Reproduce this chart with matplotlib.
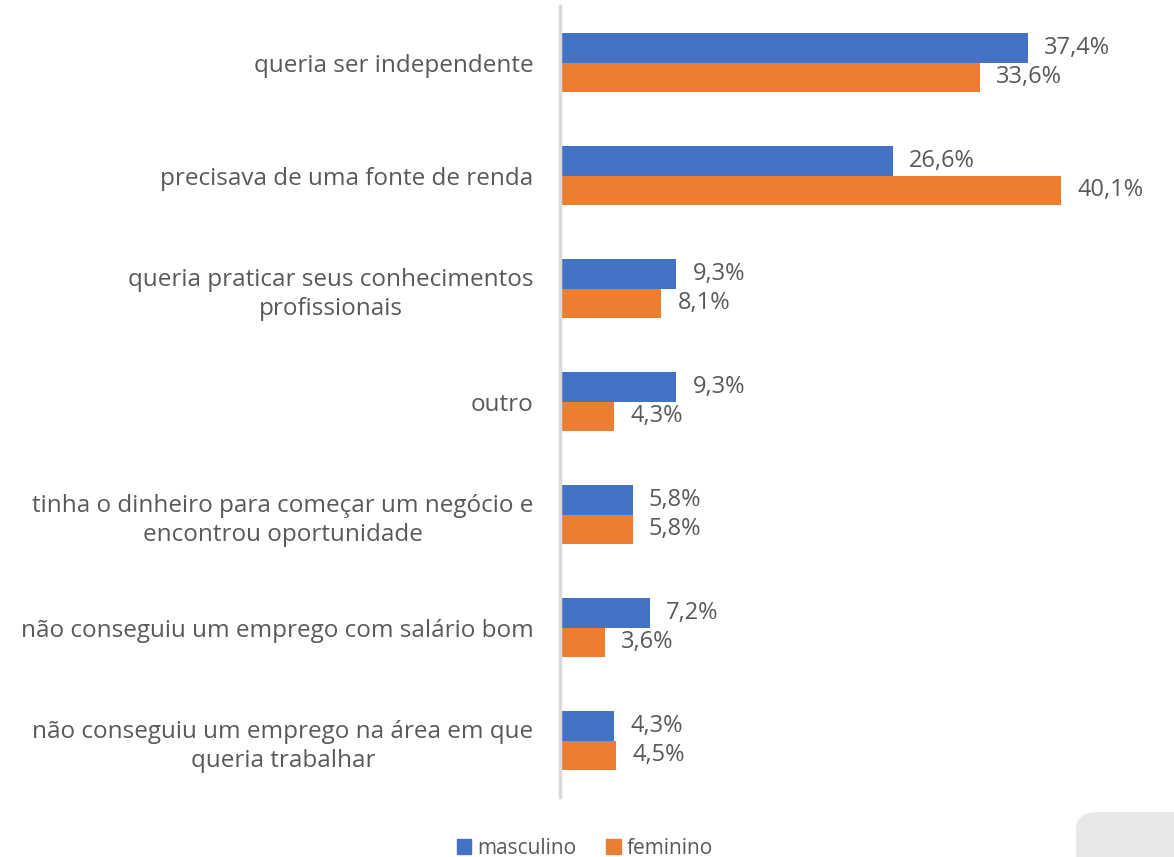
import matplotlib.pyplot as plt
from matplotlib.patches import FancyBboxPatch, Patch
import numpy as np

plt.rcParams['font.family'] = ['Open Sans', 'DejaVu Sans']

categories = [
    'queria ser independente',
    'precisava de uma fonte de renda',
    'queria praticar seus conhecimentos\nprofissionais',
    'outro',
    'tinha o dinheiro para começar um negócio e\nencontrou oportunidade',
    'não conseguiu um emprego com salário bom',
    'não conseguiu um emprego na área em que\nqueria trabalhar',
]
masculino = [37.4, 26.6, 9.3, 9.3, 5.8, 7.2, 4.3]
feminino = [33.6, 40.1, 8.1, 4.3, 5.8, 3.6, 4.5]
series_names = ['masculino', 'feminino']

blue = '#4472c4'
orange = '#ed7d31'
gray_txt = '#595959'

fig = plt.figure(figsize=(11.74, 8.57), dpi=100)
ax = fig.add_axes([560 / 1174, 60 / 857, 614 / 1174, 791 / 857])

y = np.arange(len(categories))
h = 0.26
ax.barh(y - h / 2, masculino, height=h, color=blue)
ax.barh(y + h / 2, feminino, height=h, color=orange)

for yi, v in zip(y, masculino):
    ax.text(v + 1.3, yi - h / 2, f'{v:.1f}%'.replace('.', ','), va='center', ha='left',
            fontsize=17, color=gray_txt)
for yi, v in zip(y, feminino):
    ax.text(v + 1.3, yi + h / 2, f'{v:.1f}%'.replace('.', ','), va='center', ha='left',
            fontsize=17, color=gray_txt)

ax.set_xlim(0, 49.1)
ax.set_ylim(len(categories) - 0.5, -0.5)
ax.set_yticks(y)
ax.set_yticklabels(categories, fontsize=17.5, color=gray_txt, multialignment='center',
                   linespacing=1.28)
ax.tick_params(axis='y', length=0, pad=19)
ax.set_xticks([])
for s in ['top', 'right', 'bottom']:
    ax.spines[s].set_visible(False)
ax.spines['left'].set_color('#d9d9d9')
ax.spines['left'].set_linewidth(2.5)

handles = [Patch(color=blue), Patch(color=orange)]
fig.legend(handles, series_names, loc='center', bbox_to_anchor=(585 / 1174, 1 - 848 / 857),
           ncol=2, frameon=False, fontsize=15, labelcolor=gray_txt,
           handlelength=0.7, handleheight=0.7, handletextpad=0.3, columnspacing=1.4)

corner = FancyBboxPatch((1076 / 1174, -0.05), 0.2, 0.05 + 45 / 857,
                        boxstyle='round,pad=0,rounding_size=0.02',
                        transform=fig.transFigure, facecolor='#e8e8e8', edgecolor='none', zorder=-1)
fig.patches.append(corner)

fig.savefig('out.png', dpi=100)
